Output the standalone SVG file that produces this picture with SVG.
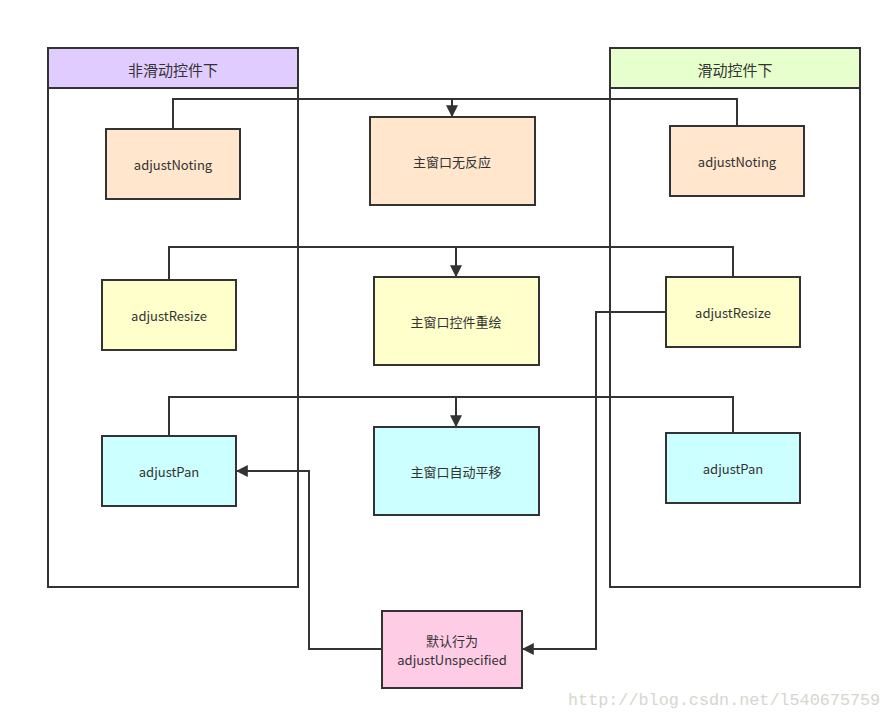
<svg xmlns="http://www.w3.org/2000/svg" width="892" height="719" viewBox="0 0 892 719">
<defs>
<style>
.box{stroke:#333;stroke-width:2}
.t{font-family:"Noto Sans CJK SC","Open Sans","Liberation Sans",sans-serif;font-size:13px;fill:#333;text-anchor:middle;dominant-baseline:central}
.h{font-size:15px}
.c{fill:none;stroke:#333;stroke-width:2}
</style>
<marker id="ar" viewBox="0 0 10 10" refX="9" refY="5" markerWidth="6" markerHeight="6" markerUnits="strokeWidth" orient="auto">
<path d="M0,0 L10,5 L0,10 z" fill="#333"/>
</marker>
</defs>
<rect width="892" height="719" fill="#fff"/>
<g id="left-pool">
<rect class="box" x="48" y="48" width="250" height="539" fill="#fff"/>
<rect class="box" x="48" y="48" width="250" height="40" fill="#e1ccff"/>
<text class="t h" x="173" y="69">非滑动控件下</text>
</g>
<g id="right-pool">
<rect class="box" x="610" y="48" width="250" height="539" fill="#fff"/>
<rect class="box" x="610" y="48" width="250" height="40" fill="#e6ffcc"/>
<text class="t h" x="735" y="69">滑动控件下</text>
</g>
<g id="connectors">
<path class="c" d="M173,129 V99 H737 V126"/>
<path class="c" d="M452,99 V116" marker-end="url(#ar)"/>
<path class="c" d="M169,280 V247 H733 V277"/>
<path class="c" d="M456,247 V276" marker-end="url(#ar)"/>
<path class="c" d="M169,436 V397 H733 V433"/>
<path class="c" d="M456,397 V426" marker-end="url(#ar)"/>
<path class="c" d="M666,312 H596 V649 H523" marker-end="url(#ar)"/>
<path class="c" d="M382,649 H309 V471 H237" marker-end="url(#ar)"/>
</g>
<g id="l-noting"><rect class="box" x="106" y="129" width="134" height="70" fill="#ffe6cc"/><text class="t" x="173" y="164">adjustNoting</text></g>
<g id="c-noresp"><rect class="box" x="370" y="117" width="165" height="88" fill="#ffe6cc"/><text class="t" x="452" y="161">主窗口无反应</text></g>
<g id="r-noting"><rect class="box" x="670" y="126" width="134" height="70" fill="#ffe6cc"/><text class="t" x="737" y="161">adjustNoting</text></g>
<g id="l-resize"><rect class="box" x="102" y="280" width="134" height="70" fill="#ffffcc"/><text class="t" x="169" y="315">adjustResize</text></g>
<g id="c-redraw"><rect class="box" x="374" y="277" width="165" height="88" fill="#ffffcc"/><text class="t" x="456" y="321">主窗口控件重绘</text></g>
<g id="r-resize"><rect class="box" x="666" y="277" width="134" height="70" fill="#ffffcc"/><text class="t" x="733" y="312">adjustResize</text></g>
<g id="l-pan"><rect class="box" x="102" y="436" width="134" height="70" fill="#ccffff"/><text class="t" x="169" y="471">adjustPan</text></g>
<g id="c-pan"><rect class="box" x="374" y="427" width="165" height="88" fill="#ccffff"/><text class="t" x="456" y="471">主窗口自动平移</text></g>
<g id="r-pan"><rect class="box" x="666" y="433" width="134" height="70" fill="#ccffff"/><text class="t" x="733" y="468">adjustPan</text></g>
<g id="default"><rect class="box" x="382" y="611" width="140" height="77" fill="#ffcce6"/><text class="t" x="452" y="640">默认行为</text><text class="t" x="452" y="659">adjustUnspecified</text></g>
<text x="568" y="705" font-family="Liberation Mono, monospace" font-size="16.8" fill="#d6d6cf">http://blog.csdn.net/l540675759</text>
</svg>
